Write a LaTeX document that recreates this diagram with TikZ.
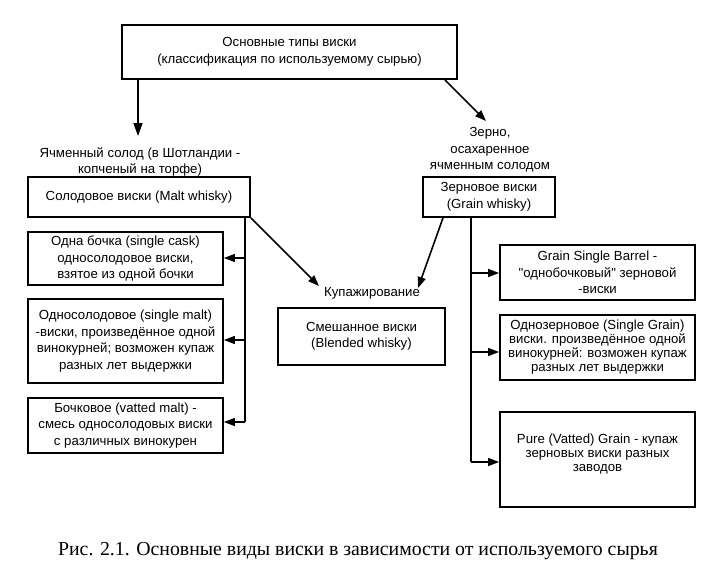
\documentclass[tikz,border=0pt]{standalone}
\usepackage{fontspec}
\setmainfont{Liberation Sans}[Ligatures=TeXOff]
\newfontfamily\capfont{Liberation Serif}
\usetikzlibrary{arrows.meta}
\begin{document}
\begin{tikzpicture}[x=1pt,y=-1pt,
  box/.style={draw,line width=1.8pt,inner sep=0pt,align=center,font=\fontsize{13.2}{16.5}\selectfont},
  tight/.style={font=\fontsize{13.2}{14}\selectfont},
  lbl/.style={inner sep=0pt,align=center,font=\fontsize{13.2}{16.5}\selectfont},
  conn/.style={line width=1.6pt},
  arr/.style={line width=1.6pt,-{Triangle[length=11pt,width=8pt]}}]
\useasboundingbox (0,0) rectangle (713,582);
\fill[white] (0,0) rectangle (713,582);
% boxes
\node[box,minimum width=335pt,minimum height=54pt] (top) at (289.5,52) {Основные типы виски\\(классификация по используемому сырью)};
\node[box,minimum width=222pt,minimum height=40pt] (malt) at (139,197) {Солодовое виски (Malt whisky)};
\node[box,minimum width=132pt,minimum height=40pt] (grain) at (489,197) {Зерновое виски\\(Grain whisky)};
\node[box,minimum width=195pt,minimum height=53pt] (b1) at (125.5,258.5) {Одна бочка (single cask)\\односолодовое виски,\\взятое из одной бочки};
\node[box,minimum width=195pt,minimum height=84pt] (b2) at (125.5,341) {Односолодовое (single malt)\\-виски, произведённое одной\\винокурней; возможен купаж\\разных лет выдержки};
\node[box,minimum width=195pt,minimum height=55pt] (b3) at (125.5,425.5) {Бочковое (vatted malt) -\\смесь односолодовых виски\\с различных винокурен};
\node[box,minimum width=167pt,minimum height=57pt] (blend) at (361.5,336.5) {Смешанное виски\\(Blended whisky)};
\node[box,minimum width=195pt,minimum height=55pt] (r1) at (597.5,272.5) {Grain Single Barrel -\\"однобочковый" зерновой\\-виски};
\node[box,tight,minimum width=195pt,minimum height=65pt] (r2) at (597.5,347.5) {Однозерновое (Single Grain)\\виски. произведённое одной\\винокурней: возможен купаж\\разных лет выдержки};
\node[box,tight,minimum width=195pt,minimum height=95pt] (r3) at (597.5,459.5) {Pure (Vatted) Grain - купаж\\зерновых виски разных\\заводов\\[-1pt]};
% labels
\node[lbl] (maltlbl) at (140,162) {Ячменный солод (в Шотландии -\\копченый на торфе)};
\node[lbl] (grainlbl) at (490,150) {Зерно,\\осахаренное\\ячменным солодом};
\node[lbl] (kup) at (372,293) {Купажирование};
\node[font=\capfont\fontsize{19.8}{22}\selectfont,inner sep=0pt] (cap) at (358,551) {Рис. 2.1. Основные виды виски в зависимости от используемого сырья};
% coordinates
\coordinate (tl) at (138,136);
\coordinate (tr) at (486,121);
\coordinate (kl) at (319,286);
\coordinate (kr) at (418,288);
\coordinate (vl) at (245,217);
\coordinate (vl1) at (245,258);
\coordinate (vl2) at (245,340);
\coordinate (vl3) at (245,422);
\coordinate (vr) at (471,217);
\coordinate (vr1) at (471,273);
\coordinate (vr2) at (471,352);
\coordinate (vr3) at (471,462);
% connectors
\draw[arr,-{Triangle[length=13pt,width=9pt]}] (top.south -| tl) -- (tl);
\draw[arr] (top.south -| 445,0) -- (tr);
\draw[arr] (malt.south east) -- (kl);
\draw[arr] (grain.south -| 443,0) -- (kr);
\draw[conn] (vl) -- (vl3);
\draw[arr] (vl1) -- (b1.east |- vl1);
\draw[arr] (vl2) -- (b2.east |- vl2);
\draw[arr] (vl3) -- (b3.east |- vl3);
\draw[conn] (vr) -- (vr3);
\draw[arr] (vr1) -- (r1.west |- vr1);
\draw[arr] (vr2) -- (r2.west |- vr2);
\draw[arr] (vr3) -- (r3.west |- vr3);
\end{tikzpicture}
\end{document}
